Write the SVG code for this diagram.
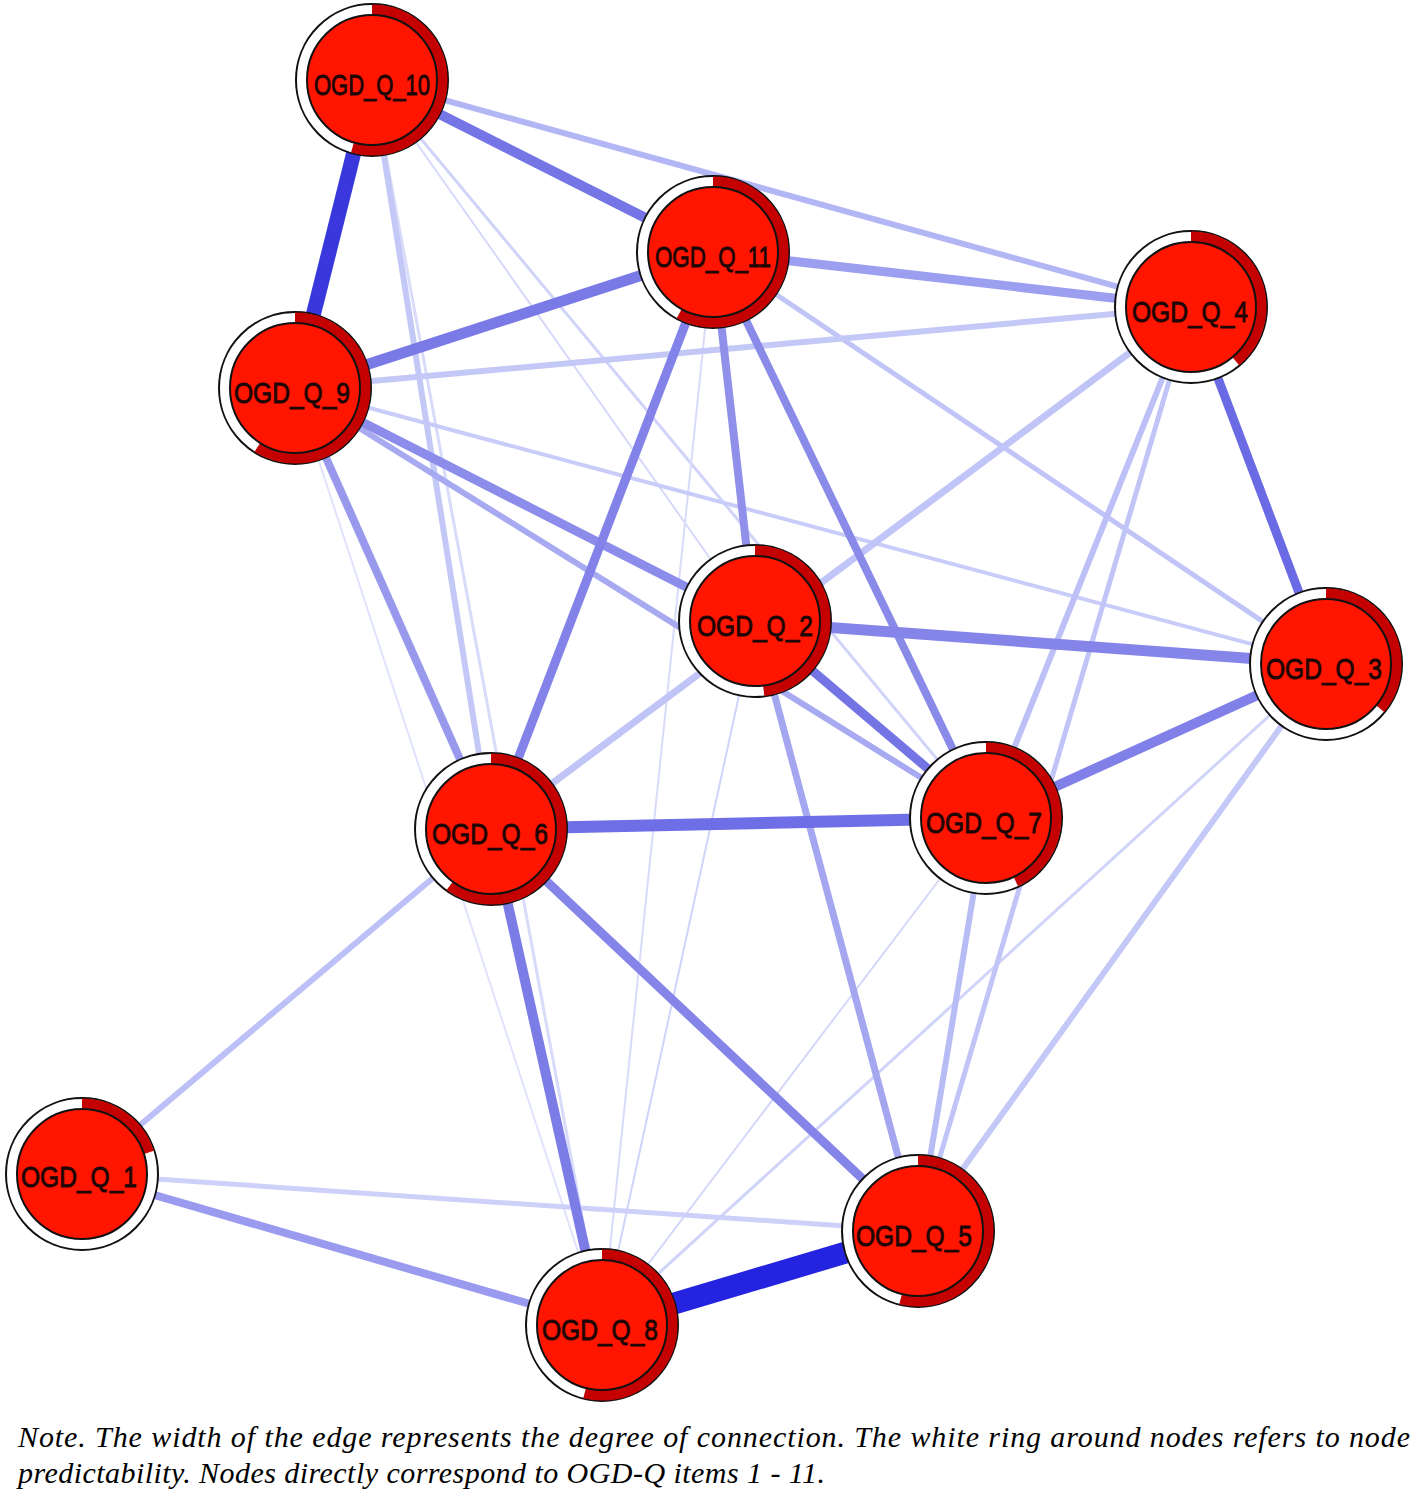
<svg xmlns="http://www.w3.org/2000/svg" width="1418" height="1493" viewBox="0 0 1418 1493">
<style>
.e{fill:none;stroke-linecap:butt}
.ring{fill:#ffffff;stroke:#111;stroke-width:2}
.arc{fill:none;stroke:#c40000;stroke-width:11}
.core{fill:#ff1500;stroke:#111;stroke-width:2}
.lbl{font-family:"Liberation Sans",Arial,sans-serif;font-size:30px;fill:#1e0606;stroke:#1e0606;stroke-width:0.9;text-anchor:middle}
.cap{font-family:"Liberation Serif","Times New Roman",serif;font-style:italic;font-size:30px;fill:#000}
</style>
<rect width="1418" height="1493" fill="#ffffff"/>
<g id="edges" class="e">
<line x1="372" y1="80" x2="602" y2="1325" stroke="#d8dbfa" stroke-width="3"/>
<line x1="295" y1="388" x2="602" y2="1325" stroke="#e0e3fb" stroke-width="2"/>
<line x1="372" y1="80" x2="755" y2="622" stroke="#d6d9fa" stroke-width="2"/>
<line x1="372" y1="80" x2="986" y2="818" stroke="#d0d4f9" stroke-width="3"/>
<line x1="755" y1="622" x2="602" y2="1325" stroke="#d0d4f9" stroke-width="2"/>
<line x1="986" y1="818" x2="602" y2="1325" stroke="#d4d8f9" stroke-width="2"/>
<line x1="1326" y1="664" x2="602" y2="1325" stroke="#d0d4f9" stroke-width="3"/>
<line x1="713" y1="252" x2="602" y2="1325" stroke="#d8dbfa" stroke-width="2"/>
<line x1="295" y1="388" x2="1326" y2="664" stroke="#c8ccf8" stroke-width="4"/>
<line x1="713" y1="252" x2="1326" y2="664" stroke="#c0c4f6" stroke-width="5"/>
<line x1="372" y1="80" x2="491" y2="829" stroke="#c4c8f7" stroke-width="6"/>
<line x1="82" y1="1174" x2="918" y2="1231" stroke="#cdd0f8" stroke-width="5"/>
<line x1="986" y1="818" x2="918" y2="1231" stroke="#b8bcf5" stroke-width="6"/>
<line x1="491" y1="829" x2="82" y2="1174" stroke="#bcc0f6" stroke-width="6"/>
<line x1="1326" y1="664" x2="918" y2="1231" stroke="#c4c8f7" stroke-width="6"/>
<line x1="1191" y1="307" x2="918" y2="1231" stroke="#c0c4f6" stroke-width="5"/>
<line x1="1191" y1="307" x2="986" y2="818" stroke="#bcc0f6" stroke-width="6"/>
<line x1="1191" y1="307" x2="491" y2="829" stroke="#c0c4f6" stroke-width="7"/>
<line x1="1191" y1="307" x2="295" y2="388" stroke="#c4c8f7" stroke-width="6"/>
<line x1="372" y1="80" x2="1191" y2="307" stroke="#b2b6f4" stroke-width="6"/>
<line x1="755" y1="622" x2="918" y2="1231" stroke="#a4a6f0" stroke-width="7"/>
<line x1="295" y1="388" x2="986" y2="818" stroke="#a8aaf1" stroke-width="6"/>
<line x1="82" y1="1174" x2="602" y2="1325" stroke="#9a9aee" stroke-width="8"/>
<line x1="295" y1="388" x2="491" y2="829" stroke="#9898ec" stroke-width="8"/>
<line x1="295" y1="388" x2="755" y2="622" stroke="#8c8cea" stroke-width="9"/>
<line x1="713" y1="252" x2="1191" y2="307" stroke="#9c9ef0" stroke-width="9"/>
<line x1="713" y1="252" x2="986" y2="818" stroke="#8a8ae9" stroke-width="8"/>
<line x1="713" y1="252" x2="755" y2="622" stroke="#9090ea" stroke-width="8"/>
<line x1="713" y1="252" x2="491" y2="829" stroke="#8282e8" stroke-width="9"/>
<line x1="491" y1="829" x2="918" y2="1231" stroke="#8585e9" stroke-width="9"/>
<line x1="491" y1="829" x2="602" y2="1325" stroke="#7c7ce7" stroke-width="10"/>
<line x1="755" y1="622" x2="986" y2="818" stroke="#7474e5" stroke-width="9"/>
<line x1="1326" y1="664" x2="986" y2="818" stroke="#8080e8" stroke-width="10"/>
<line x1="1191" y1="307" x2="1326" y2="664" stroke="#6a6ae4" stroke-width="9"/>
<line x1="755" y1="622" x2="1326" y2="664" stroke="#8585e9" stroke-width="11"/>
<line x1="491" y1="829" x2="986" y2="818" stroke="#6e6ee6" stroke-width="12"/>
<line x1="713" y1="252" x2="295" y2="388" stroke="#7a7ae7" stroke-width="11"/>
<line x1="372" y1="80" x2="713" y2="252" stroke="#7575e6" stroke-width="10"/>
<line x1="372" y1="80" x2="295" y2="388" stroke="#3838dc" stroke-width="15"/>
<line x1="602" y1="1325" x2="918" y2="1231" stroke="#2323e0" stroke-width="22"/>
</g>
<g id="Q10"><circle class="ring" cx="372" cy="80" r="76"/><circle class="arc" cx="372" cy="80" r="70" pathLength="100" stroke-dasharray="54.5 100" transform="rotate(-90 372 80)"/><circle class="core" cx="372" cy="80" r="65"/><text class="lbl" x="372" y="95" textLength="116" lengthAdjust="spacingAndGlyphs">OGD_Q_10</text></g>
<g id="Q11"><circle class="ring" cx="713" cy="252" r="76"/><circle class="arc" cx="713" cy="252" r="70" pathLength="100" stroke-dasharray="58 100" transform="rotate(-90 713 252)"/><circle class="core" cx="713" cy="252" r="65"/><text class="lbl" x="713" y="267" textLength="116" lengthAdjust="spacingAndGlyphs">OGD_Q_11</text></g>
<g id="Q4"><circle class="ring" cx="1191" cy="307" r="76"/><circle class="arc" cx="1191" cy="307" r="70" pathLength="100" stroke-dasharray="39 100" transform="rotate(-90 1191 307)"/><circle class="core" cx="1191" cy="307" r="65"/><text class="lbl" x="1190" y="322" textLength="116" lengthAdjust="spacingAndGlyphs">OGD_Q_4</text></g>
<g id="Q9"><circle class="ring" cx="295" cy="388" r="76"/><circle class="arc" cx="295" cy="388" r="70" pathLength="100" stroke-dasharray="59 100" transform="rotate(-90 295 388)"/><circle class="core" cx="295" cy="388" r="65"/><text class="lbl" x="292" y="403" textLength="116" lengthAdjust="spacingAndGlyphs">OGD_Q_9</text></g>
<g id="Q2"><circle class="ring" cx="755" cy="621" r="76"/><circle class="arc" cx="755" cy="621" r="70" pathLength="100" stroke-dasharray="48 100" transform="rotate(-90 755 621)"/><circle class="core" cx="755" cy="621" r="65"/><text class="lbl" x="755" y="636" textLength="116" lengthAdjust="spacingAndGlyphs">OGD_Q_2</text></g>
<g id="Q3"><circle class="ring" cx="1326" cy="664" r="76"/><circle class="arc" cx="1326" cy="664" r="70" pathLength="100" stroke-dasharray="36 100" transform="rotate(-90 1326 664)"/><circle class="core" cx="1326" cy="664" r="65"/><text class="lbl" x="1324" y="679" textLength="116" lengthAdjust="spacingAndGlyphs">OGD_Q_3</text></g>
<g id="Q6"><circle class="ring" cx="491" cy="829" r="76"/><circle class="arc" cx="491" cy="829" r="70" pathLength="100" stroke-dasharray="60 100" transform="rotate(-90 491 829)"/><circle class="core" cx="491" cy="829" r="65"/><text class="lbl" x="490" y="844" textLength="116" lengthAdjust="spacingAndGlyphs">OGD_Q_6</text></g>
<g id="Q7"><circle class="ring" cx="986" cy="818" r="76"/><circle class="arc" cx="986" cy="818" r="70" pathLength="100" stroke-dasharray="43 100" transform="rotate(-90 986 818)"/><circle class="core" cx="986" cy="818" r="65"/><text class="lbl" x="984" y="833" textLength="116" lengthAdjust="spacingAndGlyphs">OGD_Q_7</text></g>
<g id="Q1"><circle class="ring" cx="82" cy="1174" r="76"/><circle class="arc" cx="82" cy="1174" r="70" pathLength="100" stroke-dasharray="20 100" transform="rotate(-90 82 1174)"/><circle class="core" cx="82" cy="1174" r="65"/><text class="lbl" x="79" y="1187" textLength="116" lengthAdjust="spacingAndGlyphs">OGD_Q_1</text></g>
<g id="Q5"><circle class="ring" cx="918" cy="1231" r="76"/><circle class="arc" cx="918" cy="1231" r="70" pathLength="100" stroke-dasharray="54 100" transform="rotate(-90 918 1231)"/><circle class="core" cx="918" cy="1231" r="65"/><text class="lbl" x="914" y="1246" textLength="116" lengthAdjust="spacingAndGlyphs">OGD_Q_5</text></g>
<g id="Q8"><circle class="ring" cx="602" cy="1325" r="76"/><circle class="arc" cx="602" cy="1325" r="70" pathLength="100" stroke-dasharray="54 100" transform="rotate(-90 602 1325)"/><circle class="core" cx="602" cy="1325" r="65"/><text class="lbl" x="600" y="1340" textLength="116" lengthAdjust="spacingAndGlyphs">OGD_Q_8</text></g>
<g id="caption">
<text class="cap" x="18" y="1447" textLength="1392" lengthAdjust="spacing">Note. The width of the edge represents the degree of connection. The white ring around nodes refers to node</text>
<text class="cap" x="18" y="1483" textLength="807" lengthAdjust="spacing">predictability. Nodes directly correspond to OGD-Q items 1 - 11.</text>
</g>
</svg>
